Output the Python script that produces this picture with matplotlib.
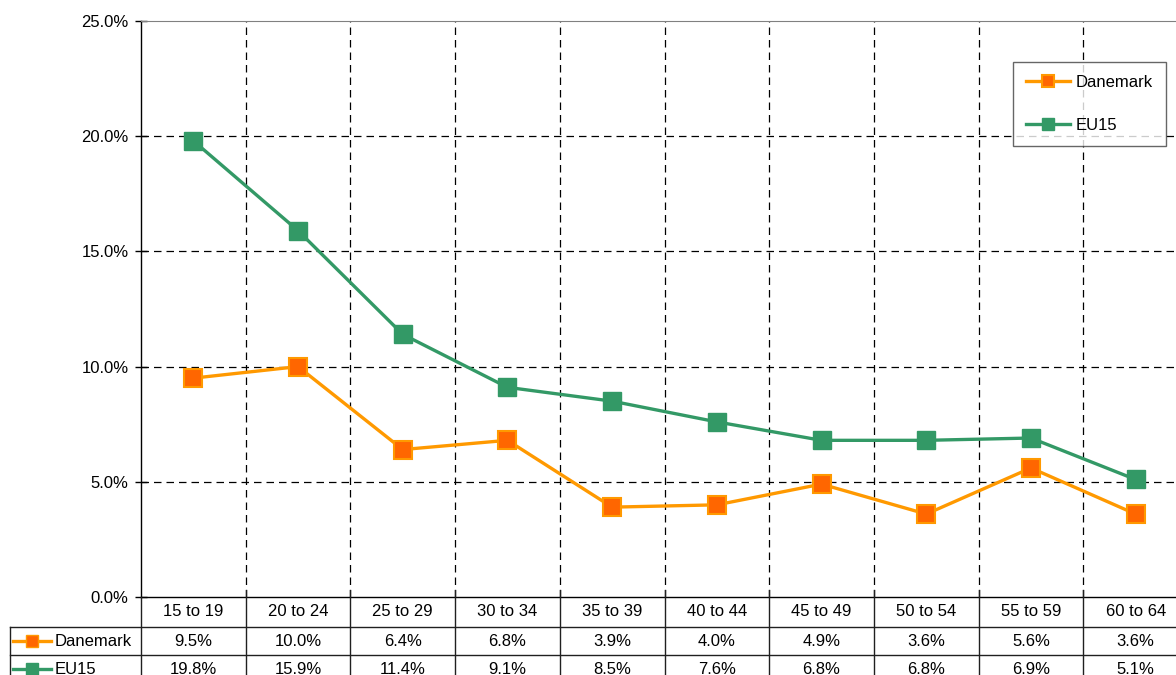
import matplotlib.pyplot as plt
import matplotlib.transforms as mtransforms
from matplotlib.lines import Line2D

# === DONNEES ===
ages = ["15 to 19", "20 to 24", "25 to 29", "30 to 34", "35 to 39",
        "40 to 44", "45 to 49", "50 to 54", "55 to 59", "60 to 64"]
danemark = [9.5, 10.0, 6.4, 6.8, 3.9, 4.0, 4.9, 3.6, 5.6, 3.6]
eu15 = [19.8, 15.9, 11.4, 9.1, 8.5, 7.6, 6.8, 6.8, 6.9, 5.1]
yticks = [0, 5, 10, 15, 20, 25]

plt.rcParams['font.family'] = ['Liberation Sans', 'DejaVu Sans']

W, H = 1176, 675
fig = plt.figure(figsize=(W / 100, H / 100), dpi=100)
fig.patch.set_facecolor("white")

# zone de tracé (debordant à droite comme sur l'original)
left, right, top, bottom = 141, 1188, 21, 597
ax = fig.add_axes([left / W, 1 - bottom / H, (right - left) / W, (bottom - top) / H])

x = list(range(len(ages)))
ORANGE_L = "#FF9900"
ORANGE_M = "#FF6600"
GREEN = "#339966"

ax.plot(x, danemark, color=ORANGE_L, lw=2.4, marker="s", ms=12.5,
        mfc=ORANGE_M, mec=ORANGE_L, mew=1.5, label="Danemark", zorder=4)
ax.plot(x, eu15, color=GREEN, lw=2.4, marker="s", ms=12.5,
        mfc=GREEN, mec=GREEN, label="EU15", zorder=4)

ax.set_xlim(-0.5, len(ages) - 0.5)
ax.set_ylim(0, 25)
ax.set_yticks(yticks)
ax.set_yticklabels([f"{v:.1f}%" for v in yticks], fontsize=12)
ax.tick_params(axis="y", direction="inout", length=8, width=1, pad=5, color="black")
ax.set_xticks([])

# grilles pointillées
for v in yticks[1:-1]:
    ax.axhline(v, color="black", lw=0.9, ls=(0, (6, 4)), zorder=1)
for b in range(len(ages)):
    ax.axvline(b + 0.5, color="black", lw=0.9, ls=(0, (6, 4)), zorder=1)

for s in ["left", "bottom"]:
    ax.spines[s].set_color("black")
    ax.spines[s].set_linewidth(1)
ax.spines["top"].set_color("#808080")
ax.spines["right"].set_visible(False)

# === TABLEAU DE DONNEES ===
trans = mtransforms.blended_transform_factory(ax.transData, fig.transFigure)
fy = lambda py: 1 - py / H
x_lab = -0.5 - (141 - 10) / 104.7
lc = "#202020"

for py in [627, 655]:
    fig.add_artist(Line2D([x_lab, 10.5], [fy(py), fy(py)], transform=trans,
                          color=lc, lw=1))
fig.add_artist(Line2D([x_lab, x_lab], [fy(627), fy(690)], transform=trans, color=lc, lw=1))
for b in range(len(ages) + 1):
    xb = b - 0.5
    fig.add_artist(Line2D([xb, xb], [fy(590 if b else 597), fy(690)], transform=trans,
                          color=lc, lw=1))

for i, lab in enumerate(ages):
    fig.text(i, fy(612), lab, transform=trans, ha="center", va="center", fontsize=12)
    fig.text(i, fy(641), f"{danemark[i]:.1f}%", transform=trans, ha="center", va="center", fontsize=12)
    fig.text(i, fy(669), f"{eu15[i]:.1f}%", transform=trans, ha="center", va="center", fontsize=12)

# clés de légende dans le tableau
for py, c, mf, name in [(641, ORANGE_L, ORANGE_M, "Danemark"), (669, GREEN, GREEN, "EU15")]:
    fig.add_artist(Line2D([13 / W, 51 / W], [fy(py), fy(py)], color=c, lw=2.4))
    fig.add_artist(Line2D([32 / W], [fy(py)], color=c, marker="s", ms=8,
                          mfc=mf, mec=c, mew=1))
    fig.text(55 / W, fy(py), name, ha="left", va="center", fontsize=12)

# légende
leg = ax.legend(loc="upper left", bbox_to_anchor=(1013 / W, 1 - 62 / H),
                bbox_transform=fig.transFigure, fontsize=12, frameon=True,
                fancybox=False, edgecolor="#404040", handlelength=2.6,
                labelspacing=1.65, borderpad=0.8, handletextpad=0.35,
                markerscale=0.72, borderaxespad=0)
leg.get_frame().set_linewidth(1)

plt.savefig("out.png", dpi=100)
